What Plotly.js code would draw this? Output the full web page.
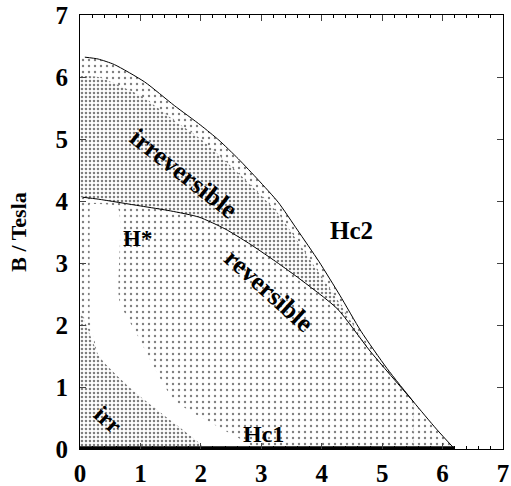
<!DOCTYPE html>
<html><head><meta charset="utf-8">
<script src="https://cdn.plot.ly/plotly-3.0.1.min.js"></script>
<style>html,body{margin:0;padding:0;background:#fff}#g{width:511px;height:486px}</style>
</head><body><div id="g"></div>
<script>
// Hc2 upper critical field
const hc2X = [0.08,0.3,0.57,1.07,1.56,2.0,2.3,2.62,2.95,3.28,3.6,3.95,4.3,4.65,5.08,5.52,5.9,6.2];
const hc2Y = [6.32,6.29,6.2,5.92,5.54,5.22,4.98,4.68,4.34,3.98,3.53,3.03,2.48,1.9,1.3,0.76,0.32,0];
// upper edge of the dense (irreversible) shading
const denseX = [0.0,0.3,1.0,1.56,2.0,2.62,3.28,3.6,3.95,4.3,4.65,5.08,5.52];
const denseY = [6.02,6.0,5.7,5.3,5.0,4.45,3.8,3.35,2.85,2.35,1.8,1.22,0.76];
// H* irreversibility line
const hsX = [0.05,0.3,1.0,1.5,1.97,2.4,2.79,3.2,3.6,4.26,4.8,5.52];
const hsY = [4.06,4.03,3.92,3.84,3.74,3.55,3.32,3.05,2.77,2.26,1.58,0.76];
// light (unshaded) band in the reversible region
const bandX = [0.16,0.62,0.65,0.93,1.56,2.3,2.9,2.05,1.97,1.42,0.87,0.33,0.16];
const bandY = [3.95,3.9,2.4,1.87,0.79,0.35,0.0,0.0,0.1,0.52,0.95,1.48,2.1];
// low-field irreversible region
const irrX = [0,0.05,0.33,0.87,1.42,1.97,2.05];
const irrY = [2.2,2.13,1.48,0.95,0.52,0.1,0];
// Hc1 lower critical field
const hc1X = [0,6.2];
const hc1Y = [0.02,0.02];

const sparse = {shape:'.', size:6, solidity:0.12, fgcolor:'#000', bgcolor:'#fff', fillmode:'overlay'};
const dense = {shape:'.', size:4, solidity:0.32, fgcolor:'#000', bgcolor:'#fff', fillmode:'overlay'};
const sp = {shape:'spline', smoothing:0.6};

const traces = [
 {x:[0].concat(hc2X), y:[6.32].concat(hc2Y), mode:'lines', line:Object.assign({width:0},sp), fill:'tozeroy', fillcolor:'#fff', fillpattern:sparse, hoverinfo:'skip'},
 {x:denseX, y:denseY, mode:'lines', line:Object.assign({width:0},sp), fill:'tozeroy', fillcolor:'#fff', fillpattern:dense, hoverinfo:'skip'},
 {x:[0].concat(hsX), y:[4.06].concat(hsY), mode:'lines', line:Object.assign({width:0},sp), fill:'tozeroy', fillcolor:'#fff', fillpattern:sparse, hoverinfo:'skip'},
 {x:bandX, y:bandY, mode:'lines', line:Object.assign({width:0},sp), fill:'toself', fillcolor:'#fff', hoverinfo:'skip'},
 {x:irrX, y:irrY, mode:'lines', line:Object.assign({width:0},sp), fill:'tozeroy', fillcolor:'#fff', fillpattern:dense, hoverinfo:'skip'},
 {x:hc2X, y:hc2Y, mode:'lines', line:Object.assign({color:'#000', width:1},sp)},
 {x:hsX, y:hsY, mode:'lines', line:Object.assign({color:'#000', width:1},sp)},
 {x:hc1X, y:hc1Y, mode:'lines', line:{color:'#000', width:3}}
];

const FF = 'Liberation Serif, Times New Roman, serif';
const fnt = {family:FF, size:25, color:'#000', weight:'bold'};
const lab = (t,x,y,a,s)=>({text:t, x:x, y:y, xref:'x', yref:'y', showarrow:false, textangle:a||0,
  font:{family:FF, size:s||22, color:'#000', weight:'bold'}});

const layout = {
  width:511, height:486, margin:{l:80, r:8, t:15, b:37},
  paper_bgcolor:'#fff', plot_bgcolor:'#fff', showlegend:false,
  xaxis:{range:[0,7], tickvals:[0,1,2,3,4,5,6,7], ticks:'inside', ticklen:6, showline:true, linecolor:'#000', linewidth:1,
    mirror:'ticks', showgrid:false, zeroline:false, tickfont:fnt, ticklabeloverflow:'allow', ticklabelstandoff:2,
    minor:{ticks:'inside', ticklen:3, dtick:0.2, tick0:0, tickcolor:'#000'}, fixedrange:true},
  yaxis:{range:[0,7], tickvals:[0,1,2,3,4,5,6,7], ticks:'inside', ticklen:6, showline:true, linecolor:'#000', linewidth:1,
    mirror:'ticks', showgrid:false, zeroline:false, tickfont:fnt, ticklabelstandoff:6, ticklabeloverflow:'allow',
    title:{text:'B / Tesla', font:{family:FF, size:22, color:'#000', weight:'bold'}, standoff:22}, fixedrange:true},
  annotations:[
    lab('irreversible',1.72,4.45,38,26),
    lab('H*',0.95,3.4,0,23),
    lab('Hc2',4.5,3.52,0,25),
    lab('reversible',3.12,2.55,42,26),
    lab('irr',0.47,0.47,42,24),
    lab('Hc1',3.03,0.25,0,24)
  ]
};
Plotly.newPlot('g', traces, layout, {staticPlot:true, displayModeBar:false});
</script></body></html>
